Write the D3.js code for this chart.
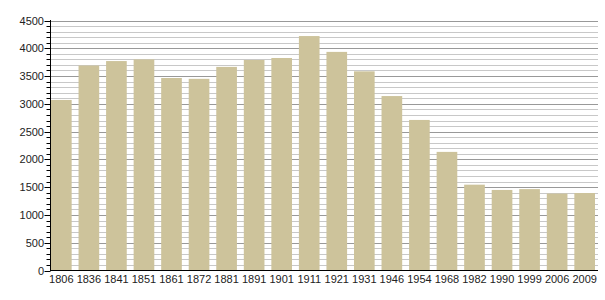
<!DOCTYPE html>
<html>
<head>
<meta charset="utf-8">
<script src="https://cdn.jsdelivr.net/npm/d3@7"></script>
<style>
    body { margin: 0; background: #fff; }
    svg text { font-family: "Liberation Sans", Arial, sans-serif; font-size: 11px; fill: #222; }
</style>
</head>
<body>
<div id="chart"></div>
<script>
    'use strict';

    var years = ['1806', '1836', '1841', '1851', '1861', '1872', '1881', '1891', '1901', '1911',
        '1921', '1931', '1946', '1954', '1968', '1982', '1990', '1999', '2006', '2009'];
    var population = [3070, 3690, 3770, 3800, 3465, 3450, 3665, 3790, 3825, 4220,
        3935, 3585, 3140, 2710, 2135, 1545, 1450, 1465, 1385, 1395];
    var majorTicks = [0, 500, 1000, 1500, 2000, 2500, 3000, 3500, 4000, 4500];

    (function() {
        var width = 605, height = 300;
        var plotLeft = 50.5, plotRight = 598, plotTop = 20.5, plotBottom = 270.5;

        var svg = d3.select('#chart').append('svg')
            .attr('width', width)
            .attr('height', height);

        var x = d3.scaleBand()
            .domain(years)
            .range([51, 595])
            .paddingInner(0.25)
            .paddingOuter(0);

        var y = d3.scaleLinear()
            .domain([0, 4500])
            .range([plotBottom, plotTop]);

        var minorTicks = d3.range(0, 4501, 100);
        var py = function(v) { return Math.round(y(v)) + 0.5; };

        // grid lines, minor first then the 500s on top
        svg.append('g').selectAll('line')
            .data(minorTicks.filter(function(v) { return v % 500 !== 0; }))
            .join('line')
            .attr('x1', plotLeft).attr('x2', plotRight)
            .attr('y1', py).attr('y2', py)
            .attr('stroke', '#c8c8c8');

        svg.append('g').selectAll('line')
            .data(majorTicks.slice(1))
            .join('line')
            .attr('x1', plotLeft).attr('x2', plotRight)
            .attr('y1', py).attr('y2', py)
            .attr('stroke', '#999');

        svg.append('g').selectAll('rect')
            .data(population)
            .join('rect')
            .attr('x', function(d, i) { return x(years[i]); })
            .attr('width', x.bandwidth())
            .attr('y', function(d) { return y(d); })
            .attr('height', function(d) { return plotBottom - y(d); })
            .attr('fill', '#cdc39b');

        // y axis with minor ticks
        var yAxis = svg.append('g');
        yAxis.append('line')
            .attr('x1', plotLeft).attr('x2', plotLeft)
            .attr('y1', plotTop - 0.5).attr('y2', plotBottom + 0.5)
            .attr('stroke', '#000');
        yAxis.selectAll('line.tick')
            .data(minorTicks)
            .join('line')
            .attr('class', 'tick')
            .attr('x1', function(v) { return v % 500 === 0 ? plotLeft - 6 : plotLeft - 4; })
            .attr('x2', plotLeft)
            .attr('y1', py).attr('y2', py)
            .attr('stroke', '#000');
        yAxis.selectAll('text')
            .data(majorTicks)
            .join('text')
            .attr('x', 44)
            .attr('y', function(v) { return y(v) + 4; })
            .attr('text-anchor', 'end')
            .text(function(v) { return v; });

        // x axis
        svg.append('line')
            .attr('x1', plotLeft).attr('x2', plotRight)
            .attr('y1', plotBottom).attr('y2', plotBottom)
            .attr('stroke', '#000');

        svg.append('g').selectAll('text')
            .data(years)
            .join('text')
            .attr('x', function(d) { return x(d) + x.bandwidth() / 2; })
            .attr('y', 283)
            .attr('text-anchor', 'middle')
            .text(function(d) { return d; });
    })();
</script>
</body>
</html>
